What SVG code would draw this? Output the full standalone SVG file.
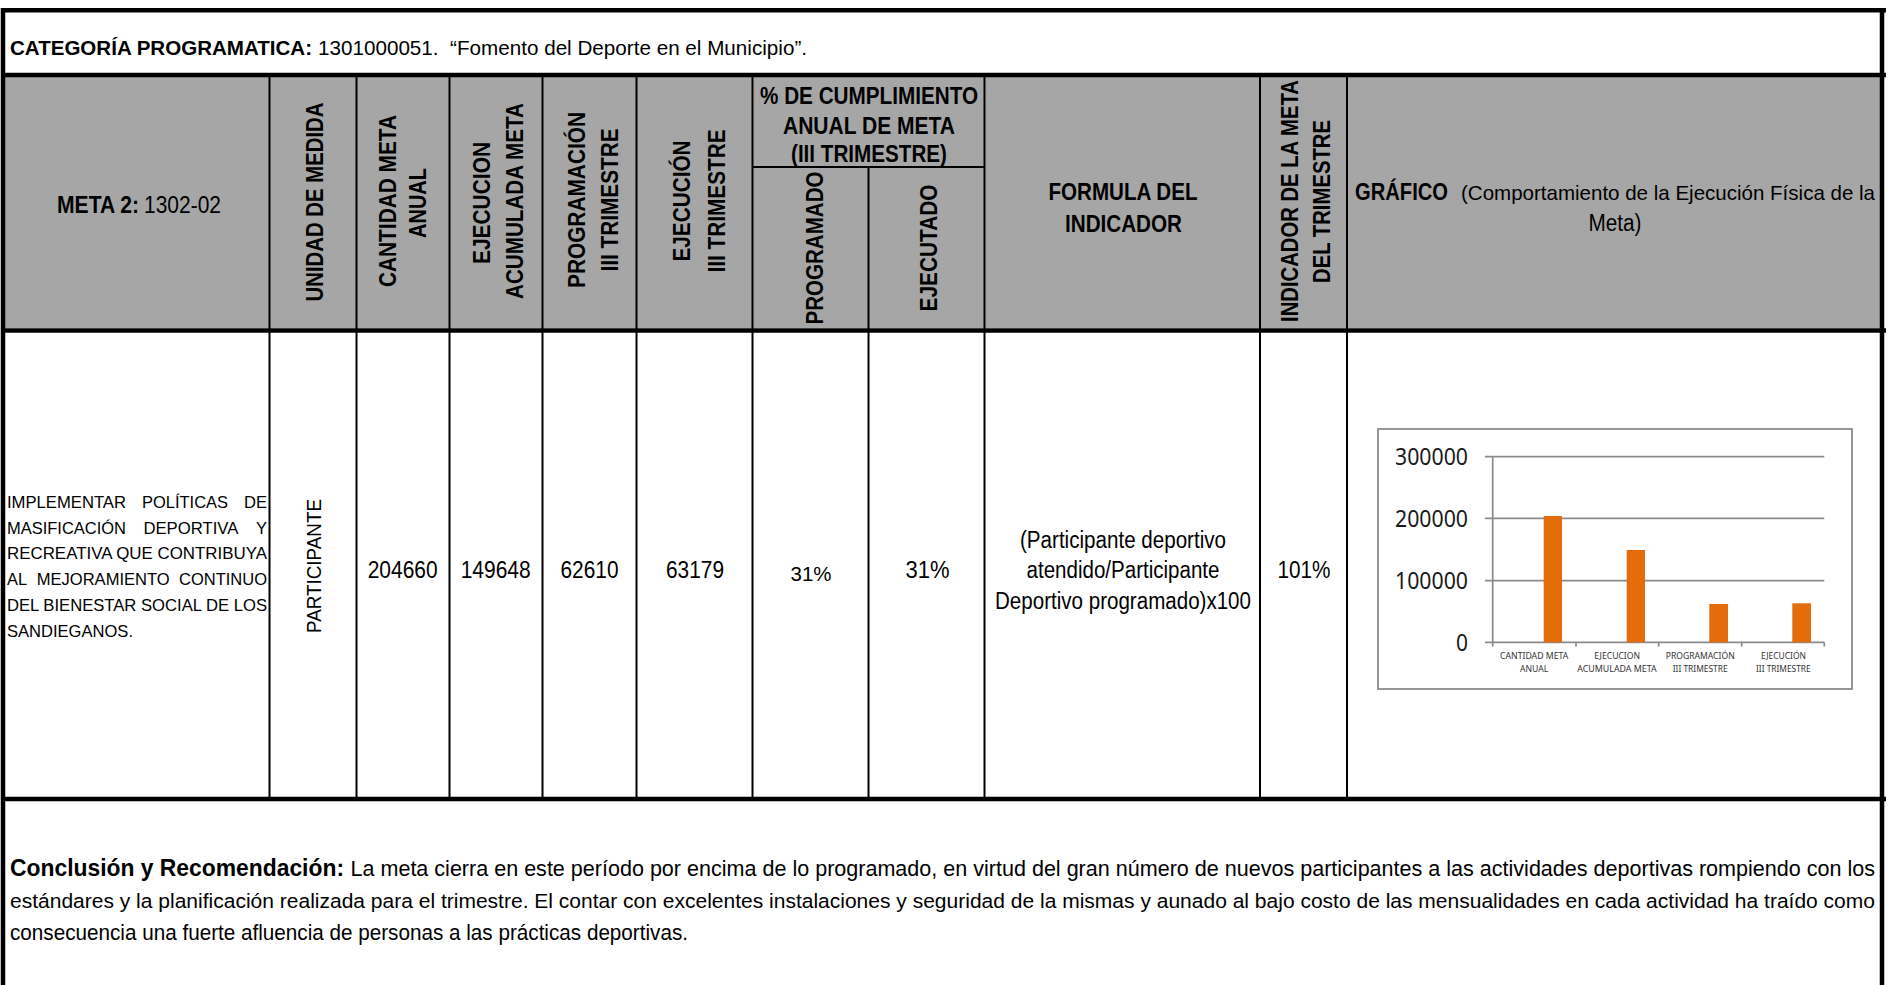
<svg xmlns="http://www.w3.org/2000/svg" width="1894" height="985" viewBox="0 0 1894 985">
<style>
.t{font-family:"Liberation Sans",Arial,sans-serif;fill:#000}
.b{font-weight:bold}
.h{font-size:24px}
.hr{font-size:23px}
.ti{font-size:21px}
.m{font-size:17px}
.n{font-size:23px}
.cc{font-size:21.5px}
.thick{stroke:#000;stroke-width:4.5;fill:none}
.thin{stroke:#000;stroke-width:2;fill:none}
.ch{font-family:"Noto Sans","Liberation Sans",sans-serif}
.grid{stroke:#8a8a8a;stroke-width:1.7;fill:none}
.bar{fill:#E46C0A}
</style>
<rect width="1894" height="985" fill="#fff"/>

<g id="header-fill">
<rect x="5" y="77" width="1877" height="251" fill="#A6A6A6"/>
</g>

<g id="grid-lines">
<line class="thin" x1="269.5" y1="77" x2="269.5" y2="797"/>
<line class="thin" x1="356.5" y1="77" x2="356.5" y2="797"/>
<line class="thin" x1="449.5" y1="77" x2="449.5" y2="797"/>
<line class="thin" x1="542.5" y1="77" x2="542.5" y2="797"/>
<line class="thin" x1="636.5" y1="77" x2="636.5" y2="797"/>
<line class="thin" x1="752.5" y1="77" x2="752.5" y2="797"/>
<line class="thin" x1="868.5" y1="167" x2="868.5" y2="797"/>
<line class="thin" x1="984.5" y1="77" x2="984.5" y2="797"/>
<line class="thin" x1="1260" y1="77" x2="1260" y2="797"/>
<line class="thin" x1="1347" y1="77" x2="1347" y2="797"/>
<line class="thin" x1="752.5" y1="167" x2="984.5" y2="167"/>
<line class="thick" x1="1" y1="10.3" x2="1886" y2="10.3"/>
<line class="thick" x1="1" y1="75" x2="1886" y2="75"/>
<line class="thick" x1="1" y1="330.5" x2="1886" y2="330.5"/>
<line class="thick" x1="1" y1="799" x2="1886" y2="799"/>
<line class="thick" x1="3" y1="8" x2="3" y2="985"/>
<line class="thick" x1="1882" y1="8" x2="1882" y2="985"/>
</g>

<g id="title">
<text class="t b ti" x="10" y="55" textLength="302" lengthAdjust="spacingAndGlyphs">CATEGORÍA PROGRAMATICA:</text>
<text class="t ti" x="318" y="55" textLength="489" lengthAdjust="spacingAndGlyphs">1301000051.&#160; “Fomento del Deporte en el Municipio”.</text>
</g>

<g id="hdr-meta">
<text class="t b hr" x="57" y="213" textLength="82" lengthAdjust="spacingAndGlyphs">META 2:</text>
<text class="t hr" x="144" y="213" textLength="77" lengthAdjust="spacingAndGlyphs">1302-02</text>
</g>

<g id="hdr-unidad">
<text class="t b h" transform="translate(323,202) rotate(-90)" x="-99.5" y="0" textLength="199" lengthAdjust="spacingAndGlyphs">UNIDAD DE MEDIDA</text>
</g>
<g id="hdr-cantidad">
<text class="t b h" transform="translate(396,201) rotate(-90)" x="-86" y="0" textLength="172" lengthAdjust="spacingAndGlyphs">CANTIDAD META</text>
<text class="t b h" transform="translate(426,203) rotate(-90)" x="-35" y="0" textLength="70" lengthAdjust="spacingAndGlyphs">ANUAL</text>
</g>
<g id="hdr-ejecucion-acum">
<text class="t b h" transform="translate(490,203) rotate(-90)" x="-61" y="0" textLength="122" lengthAdjust="spacingAndGlyphs">EJECUCION</text>
<text class="t b h" transform="translate(523,201) rotate(-90)" x="-98" y="0" textLength="196" lengthAdjust="spacingAndGlyphs">ACUMULADA META</text>
</g>
<g id="hdr-programacion">
<text class="t b h" transform="translate(585,200) rotate(-90)" x="-88" y="0" textLength="176" lengthAdjust="spacingAndGlyphs">PROGRAMACIÓN</text>
<text class="t b h" transform="translate(618,200) rotate(-90)" x="-71.5" y="0" textLength="143" lengthAdjust="spacingAndGlyphs">III TRIMESTRE</text>
</g>
<g id="hdr-ejecucion">
<text class="t b h" transform="translate(690,201) rotate(-90)" x="-60.5" y="0" textLength="121" lengthAdjust="spacingAndGlyphs">EJECUCIÓN</text>
<text class="t b h" transform="translate(725,201) rotate(-90)" x="-71.5" y="0" textLength="143" lengthAdjust="spacingAndGlyphs">III TRIMESTRE</text>
</g>
<g id="hdr-cumplimiento">
<text class="t b h" x="760" y="104" textLength="218" lengthAdjust="spacingAndGlyphs">% DE CUMPLIMIENTO</text>
<text class="t b h" x="783" y="134" textLength="172" lengthAdjust="spacingAndGlyphs">ANUAL DE META</text>
<text class="t b h" x="791" y="162" textLength="156" lengthAdjust="spacingAndGlyphs">(III TRIMESTRE)</text>
<text class="t b h" transform="translate(823,248) rotate(-90)" x="-76.5" y="0" textLength="153" lengthAdjust="spacingAndGlyphs">PROGRAMADO</text>
<text class="t b h" transform="translate(937,248) rotate(-90)" x="-63.5" y="0" textLength="127" lengthAdjust="spacingAndGlyphs">EJECUTADO</text>
</g>
<g id="hdr-formula">
<text class="t b h" x="1048.5" y="200" textLength="149" lengthAdjust="spacingAndGlyphs">FORMULA DEL</text>
<text class="t b h" x="1065" y="232" textLength="117" lengthAdjust="spacingAndGlyphs">INDICADOR</text>
</g>
<g id="hdr-indicador">
<text class="t b h" transform="translate(1298,201) rotate(-90)" x="-121" y="0" textLength="242" lengthAdjust="spacingAndGlyphs">INDICADOR DE LA META</text>
<text class="t b h" transform="translate(1330,201.5) rotate(-90)" x="-81.5" y="0" textLength="163" lengthAdjust="spacingAndGlyphs">DEL TRIMESTRE</text>
</g>
<g id="hdr-grafico">
<text class="t b h" x="1355" y="200" textLength="93" lengthAdjust="spacingAndGlyphs">GRÁFICO</text>
<text class="t" font-size="21" x="1461" y="200" textLength="414" lengthAdjust="spacingAndGlyphs">(Comportamiento de la Ejecución Física de la</text>
<text class="t hr" x="1588.5" y="231" textLength="53" lengthAdjust="spacingAndGlyphs">Meta)</text>
</g>

<g id="row-meta">
<text class="t m" x="7" y="508" textLength="119" lengthAdjust="spacingAndGlyphs">IMPLEMENTAR</text>
<text class="t m" x="142" y="508" textLength="86" lengthAdjust="spacingAndGlyphs">POLÍTICAS</text>
<text class="t m" x="244" y="508" textLength="23" lengthAdjust="spacingAndGlyphs">DE</text>
<text class="t m" x="7" y="533.7" textLength="119" lengthAdjust="spacingAndGlyphs">MASIFICACIÓN</text>
<text class="t m" x="143.4" y="533.7" textLength="95" lengthAdjust="spacingAndGlyphs">DEPORTIVA</text>
<text class="t m" x="256" y="533.7" textLength="11" lengthAdjust="spacingAndGlyphs">Y</text>
<text class="t m" x="7" y="559.4" textLength="260" lengthAdjust="spacingAndGlyphs">RECREATIVA QUE CONTRIBUYA</text>
<text class="t m" x="7" y="585" textLength="20" lengthAdjust="spacingAndGlyphs">AL</text>
<text class="t m" x="36.7" y="585" textLength="133" lengthAdjust="spacingAndGlyphs">MEJORAMIENTO</text>
<text class="t m" x="179" y="585" textLength="88" lengthAdjust="spacingAndGlyphs">CONTINUO</text>
<text class="t m" x="7" y="610.8" textLength="260" lengthAdjust="spacingAndGlyphs">DEL BIENESTAR SOCIAL DE LOS</text>
<text class="t m" x="7" y="636.5" textLength="126" lengthAdjust="spacingAndGlyphs">SANDIEGANOS.</text>
</g>
<g id="row-unidad">
<text class="t" font-size="20" transform="translate(321,566) rotate(-90)" x="-67" y="0" textLength="134" lengthAdjust="spacingAndGlyphs">PARTICIPANTE</text>
</g>
<g id="row-values">
<text class="t n" x="367.7" y="578" textLength="70" lengthAdjust="spacingAndGlyphs">204660</text>
<text class="t n" x="460.7" y="578" textLength="70" lengthAdjust="spacingAndGlyphs">149648</text>
<text class="t n" x="560.5" y="578" textLength="58" lengthAdjust="spacingAndGlyphs">62610</text>
<text class="t n" x="666" y="578" textLength="58" lengthAdjust="spacingAndGlyphs">63179</text>
<text class="t" font-size="21" x="790.5" y="581" textLength="41" lengthAdjust="spacingAndGlyphs">31%</text>
<text class="t n" x="905.5" y="578" textLength="44" lengthAdjust="spacingAndGlyphs">31%</text>
<text class="t n" x="1277.5" y="578" textLength="53" lengthAdjust="spacingAndGlyphs">101%</text>
</g>
<g id="row-formula">
<text class="t hr" x="1020" y="548" textLength="206" lengthAdjust="spacingAndGlyphs">(Participante deportivo</text>
<text class="t hr" x="1026.5" y="578" textLength="193" lengthAdjust="spacingAndGlyphs">atendido/Participante</text>
<text class="t hr" x="995" y="609" textLength="256" lengthAdjust="spacingAndGlyphs">Deportivo programado)x100</text>
</g>

<g id="chart">
<rect x="1378" y="429" width="474" height="260" fill="#fff" stroke="#8c8c8c" stroke-width="1.8"/>
<line class="grid" x1="1485" y1="456.7" x2="1824.3" y2="456.7"/>
<line class="grid" x1="1485" y1="518.3" x2="1824.3" y2="518.3"/>
<line class="grid" x1="1485" y1="580.7" x2="1824.3" y2="580.7"/>
<line class="grid" x1="1485" y1="642.3" x2="1824.3" y2="642.3"/>
<line class="grid" x1="1492.7" y1="456.7" x2="1492.7" y2="646.5"/>
<line class="grid" x1="1576" y1="642.3" x2="1576" y2="646.5"/>
<line class="grid" x1="1658.7" y1="642.3" x2="1658.7" y2="646.5"/>
<line class="grid" x1="1741.7" y1="642.3" x2="1741.7" y2="646.5"/>
<line class="grid" x1="1824.3" y1="642.3" x2="1824.3" y2="646.5"/>
<rect class="bar" x="1543.7" y="516" width="18.3" height="126.3"/>
<rect class="bar" x="1626.7" y="550" width="18.3" height="92.3"/>
<rect class="bar" x="1709.3" y="604" width="18.7" height="38.3"/>
<rect class="bar" x="1792.3" y="603.3" width="18.7" height="39"/>
<text class="ch" font-size="23" fill="#1a1a1a" x="1395" y="465" textLength="73" lengthAdjust="spacingAndGlyphs">300000</text>
<text class="ch" font-size="23" fill="#1a1a1a" x="1395" y="526.7" textLength="73" lengthAdjust="spacingAndGlyphs">200000</text>
<text class="ch" font-size="23" fill="#1a1a1a" x="1395" y="589" textLength="73" lengthAdjust="spacingAndGlyphs">100000</text>
<text class="ch" font-size="23" fill="#1a1a1a" x="1456" y="650.7" textLength="12" lengthAdjust="spacingAndGlyphs">0</text>
<text class="ch" font-size="9.5" fill="#333" x="1500" y="659.3" textLength="68.3" lengthAdjust="spacingAndGlyphs">CANTIDAD META</text>
<text class="ch" font-size="9.5" fill="#333" x="1520" y="671.7" textLength="28.3" lengthAdjust="spacingAndGlyphs">ANUAL</text>
<text class="ch" font-size="9.5" fill="#333" x="1594.3" y="659.3" textLength="45.7" lengthAdjust="spacingAndGlyphs">EJECUCION</text>
<text class="ch" font-size="9.5" fill="#333" x="1577.3" y="671.7" textLength="79.3" lengthAdjust="spacingAndGlyphs">ACUMULADA META</text>
<text class="ch" font-size="9.5" fill="#333" x="1665.7" y="659.3" textLength="69" lengthAdjust="spacingAndGlyphs">PROGRAMACIÓN</text>
<text class="ch" font-size="9.5" fill="#333" x="1672.7" y="671.7" textLength="55" lengthAdjust="spacingAndGlyphs">III TRIMESTRE</text>
<text class="ch" font-size="9.5" fill="#333" x="1761" y="659.3" textLength="45" lengthAdjust="spacingAndGlyphs">EJECUCIÓN</text>
<text class="ch" font-size="9.5" fill="#333" x="1756" y="671.7" textLength="54.7" lengthAdjust="spacingAndGlyphs">III TRIMESTRE</text>
</g>

<g id="conclusion">
<text class="t b" font-size="23" x="10" y="876" textLength="334" lengthAdjust="spacingAndGlyphs">Conclusión y Recomendación:</text>
<text class="t cc" x="350.5" y="876" textLength="1524.5" lengthAdjust="spacingAndGlyphs">La meta cierra en este período por encima de lo programado, en virtud del gran número de nuevos participantes a las actividades deportivas rompiendo con los</text>
<text class="t" font-size="20.5" x="10" y="908" textLength="1865" lengthAdjust="spacingAndGlyphs">estándares y la planificación realizada para el trimestre. El contar con excelentes instalaciones y seguridad de la mismas y aunado al bajo costo de las mensualidades en cada actividad ha traído como</text>
<text class="t cc" x="10" y="940" textLength="678" lengthAdjust="spacingAndGlyphs">consecuencia una fuerte afluencia de personas a las prácticas deportivas.</text>
</g>
</svg>
